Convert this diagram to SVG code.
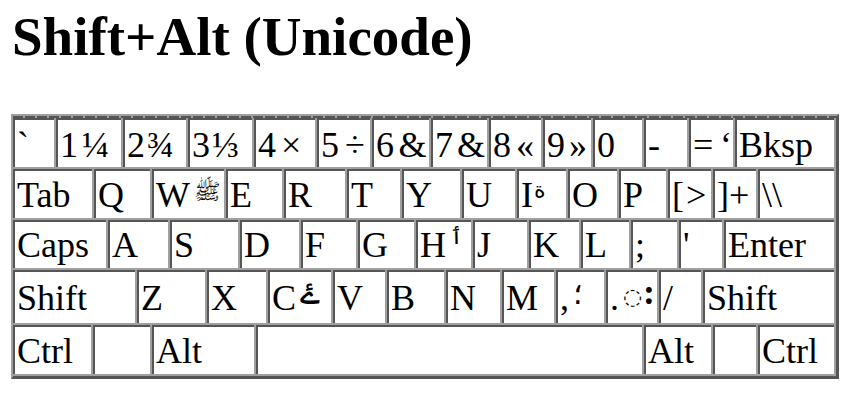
<svg xmlns="http://www.w3.org/2000/svg" width="851" height="407" viewBox="0 0 851 407">
<style>
.d{fill:#555555}
.w{fill:#ffffff}
.t{font-family:"Liberation Serif","DejaVu Serif",serif;font-size:36px;fill:#000}
.ar{font-family:"DejaVu Sans","Noto Sans",sans-serif;font-size:22px;fill:#000}
.title{font-family:"Liberation Serif","DejaVu Serif",serif;font-size:55px;font-weight:bold;fill:#000}
</style>
<rect width="851" height="407" fill="#ffffff"/>
<text class="title" x="12" y="55">Shift+Alt (Unicode)</text>
<g id="table-frame">
<rect x="11" y="114" width="828" height="265" fill="#555555"/>
<path d="M11 114H839L837 116H13V377L11 379Z" fill="#a0a0a0"/>
<rect x="13" y="116" width="823" height="260" fill="#a0a0a0"/>
<line x1="13" y1="117" x2="836" y2="117" stroke="#555555" stroke-width="2" stroke-dasharray="10 2"/>
</g>
<g id="connectors"></g>
<g id="row1">
<g id="k-backtick"><rect class="d" x="13" y="118" width="41" height="49"/><rect class="w" x="15" y="120" width="39" height="47"/><text class="t" x="17" y="156.5">`</text></g>
<g id="k-1"><rect class="d" x="56" y="118" width="65" height="49"/><rect class="w" x="58" y="120" width="63" height="47"/><text class="t" x="60" y="156.5">1<tspan x="82">¼</tspan></text></g>
<g id="k-2"><rect class="d" x="123" y="118" width="63" height="49"/><rect class="w" x="125" y="120" width="61" height="47"/><text class="t" x="127" y="156.5">2<tspan x="147">¾</tspan></text></g>
<g id="k-3"><rect class="d" x="188" y="118" width="64" height="49"/><rect class="w" x="190" y="120" width="62" height="47"/><text class="t" x="192" y="156.5">3<tspan x="212">⅓</tspan></text></g>
<g id="k-4"><rect class="d" x="254" y="118" width="61" height="49"/><rect class="w" x="256" y="120" width="59" height="47"/><text class="t" x="258" y="156.5">4<tspan x="281">×</tspan></text></g>
<g id="k-5"><rect class="d" x="317" y="118" width="53" height="49"/><rect class="w" x="319" y="120" width="51" height="47"/><text class="t" x="321" y="156.5">5<tspan x="345">÷</tspan></text></g>
<g id="k-6"><rect class="d" x="372" y="118" width="57" height="49"/><rect class="w" x="374" y="120" width="55" height="47"/><text class="t" x="376" y="156.5">6<tspan x="398.5">&amp;</tspan></text></g>
<g id="k-7"><rect class="d" x="431" y="118" width="56" height="49"/><rect class="w" x="433" y="120" width="54" height="47"/><text class="t" x="435" y="156.5">7<tspan x="457">&amp;</tspan></text></g>
<g id="k-8"><rect class="d" x="489" y="118" width="52" height="49"/><rect class="w" x="491" y="120" width="50" height="47"/><text class="t" x="493" y="156.5">8<tspan x="516">«</tspan></text></g>
<g id="k-9"><rect class="d" x="543" y="118" width="48" height="49"/><rect class="w" x="545" y="120" width="46" height="47"/><text class="t" x="547" y="156.5">9<tspan x="569">»</tspan></text></g>
<g id="k-0"><rect class="d" x="593" y="118" width="49" height="49"/><rect class="w" x="595" y="120" width="47" height="47"/><text class="t" x="597" y="156.5">0</text></g>
<g id="k-minus"><rect class="d" x="644" y="118" width="43" height="49"/><rect class="w" x="646" y="120" width="41" height="47"/><text class="t" x="648" y="156.5">-</text></g>
<g id="k-equal"><rect class="d" x="689" y="118" width="44" height="49"/><rect class="w" x="691" y="120" width="42" height="47"/><text class="t" x="693" y="156.5">=<tspan x="720">‘</tspan></text></g>
<g id="k-bksp"><rect class="d" x="735" y="118" width="99" height="49"/><rect class="w" x="737" y="120" width="97" height="47"/><text class="t" x="739" y="156.5">Bksp</text></g>
</g>
<g id="row2">
<g id="k-tab"><rect class="d" x="13" y="169" width="79" height="49"/><rect class="w" x="15" y="171" width="77" height="47"/><text class="t" x="17" y="206.5">Tab</text></g>
<g id="k-q"><rect class="d" x="94" y="169" width="56" height="49"/><rect class="w" x="96" y="171" width="54" height="47"/><text class="t" x="98" y="206.5">Q</text></g>
<g id="k-w"><rect class="d" x="152" y="169" width="72" height="49"/><rect class="w" x="154" y="171" width="70" height="47"/><text class="t" x="156" y="206.5">W</text><text class="ar" x="194" y="199">ﷺ</text></g>
<g id="k-e"><rect class="d" x="226" y="169" width="56" height="49"/><rect class="w" x="228" y="171" width="54" height="47"/><text class="t" x="230" y="206.5">E</text></g>
<g id="k-r"><rect class="d" x="284" y="169" width="61" height="49"/><rect class="w" x="286" y="171" width="59" height="47"/><text class="t" x="288" y="206.5">R</text></g>
<g id="k-t"><rect class="d" x="347" y="169" width="53" height="49"/><rect class="w" x="349" y="171" width="51" height="47"/><text class="t" x="351" y="206.5">T</text></g>
<g id="k-y"><rect class="d" x="402" y="169" width="58" height="49"/><rect class="w" x="404" y="171" width="56" height="47"/><text class="t" x="406" y="206.5">Y</text></g>
<g id="k-u"><rect class="d" x="462" y="169" width="53" height="49"/><rect class="w" x="464" y="171" width="51" height="47"/><text class="t" x="466" y="206.5">U</text></g>
<g id="k-i"><rect class="d" x="517" y="169" width="49" height="49"/><rect class="w" x="519" y="171" width="47" height="47"/><text class="t" x="521" y="206.5">I</text><text class="ar" x="534" y="198">ة</text></g>
<g id="k-o"><rect class="d" x="568" y="169" width="49" height="49"/><rect class="w" x="570" y="171" width="47" height="47"/><text class="t" x="572" y="206.5">O</text></g>
<g id="k-p"><rect class="d" x="619" y="169" width="47" height="49"/><rect class="w" x="621" y="171" width="45" height="47"/><text class="t" x="623" y="206.5">P</text></g>
<g id="k-lbracket"><rect class="d" x="668" y="169" width="43" height="49"/><rect class="w" x="670" y="171" width="41" height="47"/><text class="t" x="672" y="206.5">[<tspan x="686">&gt;</tspan></text></g>
<g id="k-rbracket"><rect class="d" x="713" y="169" width="43" height="49"/><rect class="w" x="715" y="171" width="41" height="47"/><text class="t" x="717" y="206.5">]<tspan x="729">+</tspan></text></g>
<g id="k-backslash"><rect class="d" x="758" y="169" width="76" height="49"/><rect class="w" x="760" y="171" width="74" height="47"/><text class="t" x="762" y="206.5">\\</text></g>
</g>
<g id="row3">
<g id="k-caps"><rect class="d" x="13" y="220" width="93" height="48"/><rect class="w" x="15" y="222" width="91" height="46"/><text class="t" x="17" y="257">Caps</text></g>
<g id="k-a"><rect class="d" x="108" y="220" width="60" height="48"/><rect class="w" x="110" y="222" width="58" height="46"/><text class="t" x="112" y="257">A</text></g>
<g id="k-s"><rect class="d" x="170" y="220" width="68" height="48"/><rect class="w" x="172" y="222" width="66" height="46"/><text class="t" x="174" y="257">S</text></g>
<g id="k-d"><rect class="d" x="240" y="220" width="59" height="48"/><rect class="w" x="242" y="222" width="57" height="46"/><text class="t" x="244" y="257">D</text></g>
<g id="k-f"><rect class="d" x="301" y="220" width="55" height="48"/><rect class="w" x="303" y="222" width="53" height="46"/><text class="t" x="305" y="257">F</text></g>
<g id="k-g"><rect class="d" x="358" y="220" width="56" height="48"/><rect class="w" x="360" y="222" width="54" height="46"/><text class="t" x="362" y="257">G</text></g>
<g id="k-h"><rect class="d" x="416" y="220" width="55" height="48"/><rect class="w" x="418" y="222" width="53" height="46"/><text class="t" x="420" y="257">H</text><text class="ar" x="450" y="244">ٲ</text></g>
<g id="k-j"><rect class="d" x="473" y="220" width="54" height="48"/><rect class="w" x="475" y="222" width="52" height="46"/><text class="t" x="477" y="257">J</text></g>
<g id="k-k"><rect class="d" x="529" y="220" width="50" height="48"/><rect class="w" x="531" y="222" width="48" height="46"/><text class="t" x="533" y="257">K</text></g>
<g id="k-l"><rect class="d" x="581" y="220" width="48" height="48"/><rect class="w" x="583" y="222" width="46" height="46"/><text class="t" x="585" y="257">L</text></g>
<g id="k-semicolon"><rect class="d" x="631" y="220" width="46" height="48"/><rect class="w" x="633" y="222" width="44" height="46"/><text class="t" x="635" y="257">;</text></g>
<g id="k-quote"><rect class="d" x="679" y="220" width="43" height="48"/><rect class="w" x="681" y="222" width="41" height="46"/><text class="t" x="683" y="257">'</text></g>
<g id="k-enter"><rect class="d" x="724" y="220" width="110" height="48"/><rect class="w" x="726" y="222" width="108" height="46"/><text class="t" x="728" y="257">Enter</text></g>
</g>
<g id="row4">
<g id="k-lshift"><rect class="d" x="13" y="270" width="122" height="53"/><rect class="w" x="15" y="272" width="120" height="51"/><text class="t" x="17" y="310">Shift</text></g>
<g id="k-z"><rect class="d" x="137" y="270" width="68" height="53"/><rect class="w" x="139" y="272" width="66" height="51"/><text class="t" x="141" y="310">Z</text></g>
<g id="k-x"><rect class="d" x="207" y="270" width="59" height="53"/><rect class="w" x="209" y="272" width="57" height="51"/><text class="t" x="211" y="310">X</text></g>
<g id="k-c"><rect class="d" x="268" y="270" width="63" height="53"/><rect class="w" x="270" y="272" width="61" height="51"/><text class="t" x="272" y="310">C</text><text class="ar" x="300" y="304" style="font-size:34px">ۓ</text></g>
<g id="k-v"><rect class="d" x="333" y="270" width="52" height="53"/><rect class="w" x="335" y="272" width="50" height="51"/><text class="t" x="337" y="310">V</text></g>
<g id="k-b"><rect class="d" x="387" y="270" width="57" height="53"/><rect class="w" x="389" y="272" width="55" height="51"/><text class="t" x="391" y="310">B</text></g>
<g id="k-n"><rect class="d" x="446" y="270" width="54" height="53"/><rect class="w" x="448" y="272" width="52" height="51"/><text class="t" x="450" y="310">N</text></g>
<g id="k-m"><rect class="d" x="502" y="270" width="52" height="53"/><rect class="w" x="504" y="272" width="50" height="51"/><text class="t" x="506" y="310">M</text></g>
<g id="k-comma"><rect class="d" x="556" y="270" width="48" height="53"/><rect class="w" x="558" y="272" width="46" height="51"/><text class="t" x="560" y="310">,</text><text class="ar" x="573" y="304" style="font-size:30px">؛</text></g>
<g id="k-period"><rect class="d" x="606" y="270" width="51" height="53"/><rect class="w" x="608" y="272" width="49" height="51"/><text class="t" x="610" y="310">.</text><text class="ar" x="623" y="304">◌</text><text class="t" x="643" y="304" style="font-weight:bold">:</text></g>
<g id="k-slash"><rect class="d" x="659" y="270" width="42" height="53"/><rect class="w" x="661" y="272" width="40" height="51"/><text class="t" x="663" y="310">/</text></g>
<g id="k-rshift"><rect class="d" x="703" y="270" width="131" height="53"/><rect class="w" x="705" y="272" width="129" height="51"/><text class="t" x="707" y="310">Shift</text></g>
</g>
<g id="row5">
<g id="k-lctrl"><rect class="d" x="13" y="325" width="78" height="49"/><rect class="w" x="15" y="327" width="76" height="47"/><text class="t" x="17" y="363">Ctrl</text></g>
<g id="k-lwin"><rect class="d" x="93" y="325" width="57" height="49"/><rect class="w" x="95" y="327" width="55" height="47"/></g>
<g id="k-lalt"><rect class="d" x="152" y="325" width="102" height="49"/><rect class="w" x="154" y="327" width="100" height="47"/><text class="t" x="156" y="363">Alt</text></g>
<g id="k-space"><rect class="d" x="256" y="325" width="386" height="49"/><rect class="w" x="258" y="327" width="384" height="47"/></g>
<g id="k-ralt"><rect class="d" x="644" y="325" width="67" height="49"/><rect class="w" x="646" y="327" width="65" height="47"/><text class="t" x="648" y="363">Alt</text></g>
<g id="k-rwin"><rect class="d" x="713" y="325" width="43" height="49"/><rect class="w" x="715" y="327" width="41" height="47"/></g>
<g id="k-rctrl"><rect class="d" x="758" y="325" width="76" height="49"/><rect class="w" x="760" y="327" width="74" height="47"/><text class="t" x="762" y="363">Ctrl</text></g>
</g>
</svg>
